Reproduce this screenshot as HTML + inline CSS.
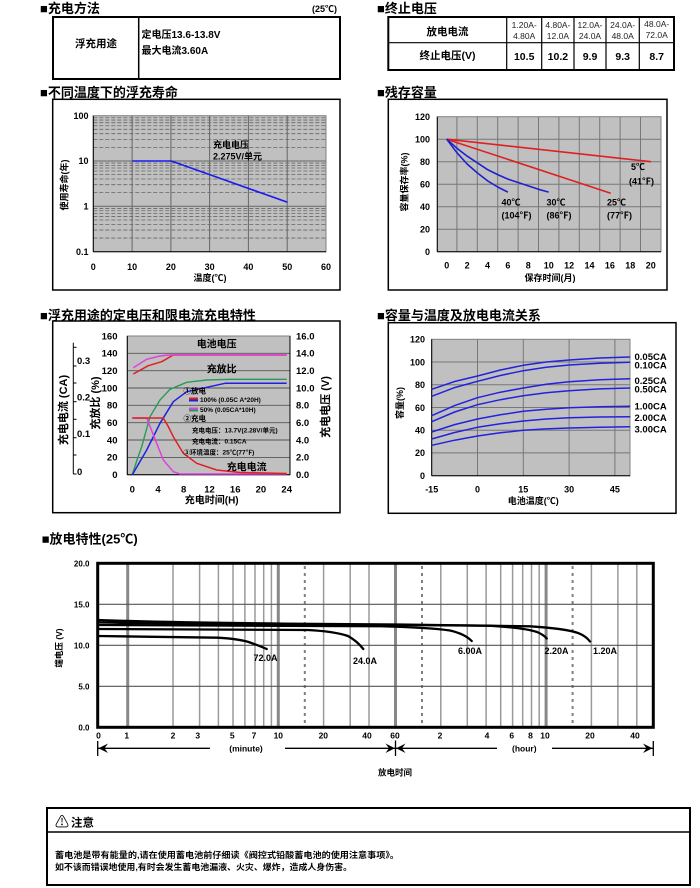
<!DOCTYPE html>
<html><head><meta charset="utf-8"><style>
html,body{margin:0;padding:0;background:#fff;}
svg{display:block;font-family:"Liberation Sans","Noto Sans CJK SC",sans-serif;font-weight:bold;}
</style></head><body>
<svg width="700" height="888" viewBox="0 0 700 888" xmlns="http://www.w3.org/2000/svg">
<rect width="700" height="888" fill="#fff"/>

<!-- ===== Table 1 ===== -->
<text x="40" y="13" font-size="13">■充电方法</text>
<text x="337" y="12" font-size="9" text-anchor="end">(25℃)</text>
<rect x="53" y="17" width="287" height="62" fill="none" stroke="#000" stroke-width="2"/>
<line x1="138.7" y1="17" x2="138.7" y2="79" stroke="#000" stroke-width="1.5"/>
<text x="96" y="47" font-size="10.5" text-anchor="middle">浮充用途</text>
<text x="141.5" y="38" font-size="10">定电压13.6-13.8V</text>
<text x="141.5" y="54" font-size="10">最大电流3.60A</text>

<!-- ===== Table 2 ===== -->
<text x="377" y="13" font-size="13">■终止电压</text>
<rect x="388.3" y="17" width="285.7" height="53" fill="none" stroke="#000" stroke-width="2"/>
<line x1="388.3" y1="42.7" x2="674" y2="42.7" stroke="#000" stroke-width="1.2"/>
<g stroke="#000" stroke-width="1.2">
<line x1="506.7" y1="17" x2="506.7" y2="70"/><line x1="541.7" y1="17" x2="541.7" y2="70"/>
<line x1="574" y1="17" x2="574" y2="70"/><line x1="606" y1="17" x2="606" y2="70"/>
<line x1="639.3" y1="17" x2="639.3" y2="70"/></g>
<text x="447.5" y="35" font-size="10.5" text-anchor="middle">放电电流</text>
<g font-size="8.5" font-weight="normal" text-anchor="middle" fill="#222">
<text x="524.2" y="28">1.20A-</text><text x="524.2" y="39">4.80A</text>
<text x="557.9" y="28">4.80A-</text><text x="557.9" y="39">12.0A</text>
<text x="590" y="28">12.0A-</text><text x="590" y="39">24.0A</text>
<text x="622.7" y="28">24.0A-</text><text x="622.7" y="39">48.0A</text>
<text x="656.7" y="27">48.0A-</text><text x="656.7" y="38">72.0A</text>
</g>
<text x="447.5" y="59" font-size="10.5" text-anchor="middle">终止电压(V)</text>
<g font-size="10.5" text-anchor="middle">
<text x="524.2" y="60">10.5</text><text x="557.9" y="60">10.2</text><text x="590" y="60">9.9</text>
<text x="622.7" y="60">9.3</text><text x="656.7" y="60">8.7</text></g>

<!-- ===== Float life chart ===== -->
<text x="40" y="97" font-size="13">■不同温度下的浮充寿命</text>
<rect x="52.7" y="99.3" width="287.3" height="190.7" fill="#fff" stroke="#000" stroke-width="1.5"/>
<rect x="93.3" y="115.7" width="232.7" height="136" fill="#c0c0c0" stroke="#808080" stroke-width="1"/>
<g stroke="#666" stroke-width="0.8" stroke-dasharray="4,2">
<line x1="93.3" x2="326" y1="238.05" y2="238.05"/><line x1="93.3" x2="326" y1="230.07" y2="230.07"/>
<line x1="93.3" x2="326" y1="224.41" y2="224.41"/><line x1="93.3" x2="326" y1="220.02" y2="220.02"/>
<line x1="93.3" x2="326" y1="216.43" y2="216.43"/><line x1="93.3" x2="326" y1="213.39" y2="213.39"/>
<line x1="93.3" x2="326" y1="210.76" y2="210.76"/><line x1="93.3" x2="326" y1="208.44" y2="208.44"/>
<line x1="93.3" x2="326" y1="192.65" y2="192.65"/><line x1="93.3" x2="326" y1="184.67" y2="184.67"/>
<line x1="93.3" x2="326" y1="179.01" y2="179.01"/><line x1="93.3" x2="326" y1="174.62" y2="174.62"/>
<line x1="93.3" x2="326" y1="171.03" y2="171.03"/><line x1="93.3" x2="326" y1="167.99" y2="167.99"/>
<line x1="93.3" x2="326" y1="165.36" y2="165.36"/><line x1="93.3" x2="326" y1="163.04" y2="163.04"/>
<line x1="93.3" x2="326" y1="147.35" y2="147.35"/><line x1="93.3" x2="326" y1="139.37" y2="139.37"/>
<line x1="93.3" x2="326" y1="133.71" y2="133.71"/><line x1="93.3" x2="326" y1="129.32" y2="129.32"/>
<line x1="93.3" x2="326" y1="125.73" y2="125.73"/><line x1="93.3" x2="326" y1="122.69" y2="122.69"/>
<line x1="93.3" x2="326" y1="120.06" y2="120.06"/><line x1="93.3" x2="326" y1="117.74" y2="117.74"/>
</g>
<g stroke="#666" stroke-width="1">
<line x1="93.3" x2="326" y1="161" y2="161"/><line x1="93.3" x2="326" y1="206.3" y2="206.3"/>
<line x1="132.1" x2="132.1" y1="115.7" y2="251.7"/><line x1="170.9" x2="170.9" y1="115.7" y2="251.7"/>
<line x1="209.6" x2="209.6" y1="115.7" y2="251.7"/><line x1="248.4" x2="248.4" y1="115.7" y2="251.7"/>
<line x1="287.2" x2="287.2" y1="115.7" y2="251.7"/>
</g>
<line x1="93.3" y1="115.7" x2="93.3" y2="251.7" stroke="#000" stroke-width="1"/>
<line x1="93.3" y1="251.7" x2="326" y2="251.7" stroke="#000" stroke-width="1"/>
<polyline points="132.4,161 171.4,161 287.5,202.3" fill="none" stroke="#1a1aee" stroke-width="1.6"/>
<text x="213" y="148" font-size="9">充电电压</text>
<text x="213" y="159.5" font-size="9">2.275V/单元</text>
<g font-size="9" text-anchor="end">
<text x="88.5" y="119">100</text><text x="88.5" y="164">10</text><text x="88.5" y="209.5">1</text><text x="88.5" y="255">0.1</text></g>
<g font-size="9" text-anchor="middle">
<text x="93.3" y="270">0</text><text x="132.1" y="270">10</text><text x="170.9" y="270">20</text><text x="209.6" y="270">30</text>
<text x="248.4" y="270">40</text><text x="287.2" y="270">50</text><text x="326" y="270">60</text></g>
<text x="210" y="281" font-size="9" text-anchor="middle">温度(℃)</text>
<text transform="translate(67.5,185) rotate(-90)" font-size="9" text-anchor="middle">使用寿命(年)</text>

<!-- ===== Residual capacity chart ===== -->
<text x="377" y="97" font-size="13">■残存容量</text>
<rect x="388.3" y="99.3" width="278.7" height="190.7" fill="#fff" stroke="#000" stroke-width="1.5"/>
<rect x="437.3" y="116.7" width="223.7" height="135" fill="#c0c0c0" stroke="#808080" stroke-width="1"/>
<g stroke="#777" stroke-width="1">
<line x1="437.3" x2="661" y1="139.2" y2="139.2"/><line x1="437.3" x2="661" y1="161.7" y2="161.7"/>
<line x1="437.3" x2="661" y1="184.2" y2="184.2"/><line x1="437.3" x2="661" y1="206.7" y2="206.7"/>
<line x1="437.3" x2="661" y1="229.2" y2="229.2"/>
<line x1="456.9" x2="456.9" y1="116.7" y2="251.7"/><line x1="477.3" x2="477.3" y1="116.7" y2="251.7"/>
<line x1="497.7" x2="497.7" y1="116.7" y2="251.7"/><line x1="518.1" x2="518.1" y1="116.7" y2="251.7"/>
<line x1="538.5" x2="538.5" y1="116.7" y2="251.7"/><line x1="558.9" x2="558.9" y1="116.7" y2="251.7"/>
<line x1="579.3" x2="579.3" y1="116.7" y2="251.7"/><line x1="599.7" x2="599.7" y1="116.7" y2="251.7"/>
<line x1="620.1" x2="620.1" y1="116.7" y2="251.7"/><line x1="640.5" x2="640.5" y1="116.7" y2="251.7"/>
</g>
<line x1="437.3" y1="116.7" x2="437.3" y2="251.7" stroke="#000" stroke-width="1"/>
<line x1="437.3" y1="251.7" x2="661" y2="251.7" stroke="#000" stroke-width="1"/>
<line x1="446.7" y1="139.2" x2="651" y2="161.7" stroke="#e02020" stroke-width="1.6"/>
<line x1="446.7" y1="139.2" x2="610.7" y2="193.2" stroke="#e02020" stroke-width="1.6"/>
<polyline points="446.7,139.2 456.9,148.2 467.1,156.1 477.3,162.8 487.5,169.6 497.7,174.6 507.9,179.1 518.1,182.5 528.3,185.9 538.5,189.3 548.7,192.1" fill="none" stroke="#2020d0" stroke-width="1.6" stroke-linejoin="round"/>
<polyline points="446.7,139.2 456.9,152.7 467.1,164 477.3,172.9 487.5,180.8 497.7,187 507.9,192.1" fill="none" stroke="#2020d0" stroke-width="1.6" stroke-linejoin="round"/>
<g font-size="9">
<text x="631" y="170">5℃</text><text x="629" y="184.5">(41℉)</text>
<text x="501.5" y="205.5">40℃</text><text x="501.5" y="218.5">(104℉)</text>
<text x="546.5" y="205.5">30℃</text><text x="546.5" y="218.5">(86℉)</text>
<text x="607" y="205.5">25℃</text><text x="607" y="218.5">(77℉)</text></g>
<g font-size="9" text-anchor="end">
<text x="430" y="120">120</text><text x="430" y="142.5">100</text><text x="430" y="165">80</text><text x="430" y="187.5">60</text>
<text x="430" y="210">40</text><text x="430" y="232.5">20</text><text x="430" y="255">0</text></g>
<g font-size="9" text-anchor="middle">
<text x="446.7" y="268.5">0</text><text x="467.1" y="268.5">2</text><text x="487.5" y="268.5">4</text><text x="507.9" y="268.5">6</text>
<text x="528.3" y="268.5">8</text><text x="548.7" y="268.5">10</text><text x="569.1" y="268.5">12</text><text x="589.5" y="268.5">14</text>
<text x="609.9" y="268.5">16</text><text x="630.3" y="268.5">18</text><text x="650.7" y="268.5">20</text></g>
<text x="550" y="281" font-size="9" text-anchor="middle">保存时间(月)</text>
<text transform="translate(407.5,182) rotate(-90)" font-size="9" text-anchor="middle">容量保存率(%)</text>

<!-- ===== Charge characteristics chart ===== -->
<text x="40" y="320" font-size="13">■浮充用途的定电压和限电流充电特性</text>
<rect x="52.7" y="321" width="287.3" height="191.7" fill="#fff" stroke="#000" stroke-width="1.5"/>
<rect x="127.3" y="336" width="162.7" height="138.7" fill="#c0c0c0" stroke="#808080" stroke-width="1"/>
<g stroke="#555" stroke-width="0.9">
<line x1="127.3" x2="290" y1="457.4" y2="457.4"/><line x1="127.3" x2="290" y1="440" y2="440"/>
<line x1="127.3" x2="290" y1="422.7" y2="422.7"/><line x1="127.3" x2="290" y1="405.3" y2="405.3"/>
<line x1="127.3" x2="290" y1="388" y2="388"/><line x1="127.3" x2="290" y1="370.7" y2="370.7"/>
<line x1="127.3" x2="290" y1="353.3" y2="353.3"/></g>
<line x1="127.3" y1="336" x2="127.3" y2="474.7" stroke="#000" stroke-width="1"/>
<line x1="127.3" y1="474.7" x2="290" y2="474.7" stroke="#000" stroke-width="1"/>
<line x1="290" y1="336" x2="290" y2="474.7" stroke="#000" stroke-width="1"/>
<!-- CA axis -->
<line x1="73.3" y1="342.7" x2="73.3" y2="474" stroke="#000" stroke-width="1"/>
<g stroke="#000" stroke-width="1">
<line x1="73.3" x2="76.5" y1="347.3" y2="347.3"/><line x1="73.3" x2="76.5" y1="366" y2="366"/>
<line x1="73.3" x2="76.5" y1="383" y2="383"/><line x1="73.3" x2="76.5" y1="401.7" y2="401.7"/>
<line x1="73.3" x2="76.5" y1="419.3" y2="419.3"/><line x1="73.3" x2="76.5" y1="437.7" y2="437.7"/>
<line x1="73.3" x2="76.5" y1="455" y2="455"/><line x1="73.3" x2="76.5" y1="474" y2="474"/></g>
<g font-size="9.5">
<text x="77" y="364">0.3</text><text x="77" y="400.5">0.2</text><text x="77" y="437">0.1</text><text x="77" y="475">0</text></g>
<!-- curves -->
<polyline points="133.3,374 148.3,365.7 161.7,361.7 173.3,355 286.7,355" fill="none" stroke="#e02020" stroke-width="1.5" stroke-linejoin="round"/>
<polyline points="133.3,367.7 146.7,359.3 160,356 168.3,355 286.7,355" fill="none" stroke="#e040e0" stroke-width="1.5" stroke-linejoin="round"/>
<polyline points="132.3,474.7 137,460 141.7,446.7 150,416.7 160,400 170,389.3 186.7,382.3 206.7,380 230,379.3 286.7,379.3" fill="none" stroke="#2a9a5a" stroke-width="1.4" stroke-linejoin="round"/>
<polyline points="132.3,474.7 146.7,450 160,423.3 173.3,401.7 186.7,391.7 206.7,387.3 225,383.3 286.7,383.3" fill="none" stroke="#2020e0" stroke-width="1.5" stroke-linejoin="round"/>
<polyline points="132.3,418 146.7,418 156.7,443.3 163.3,460 173.3,471.7 180,474 286.7,474" fill="none" stroke="#e040e0" stroke-width="1.5" stroke-linejoin="round"/>
<polyline points="132.3,418 163.3,418 168,426 173.3,436.7 183.3,453.3 196.7,463.3 216.7,470 240,472.5 286.7,473.5" fill="none" stroke="#e02020" stroke-width="1.5" stroke-linejoin="round"/>
<text x="216.7" y="347.5" font-size="10" text-anchor="middle">电池电压</text>
<text x="221.7" y="372.5" font-size="10" text-anchor="middle">充放比</text>
<text x="246.7" y="470.5" font-size="10" text-anchor="middle">充电电流</text>
<g font-size="6.5">
<text x="183.5" y="393.5" font-size="7.5">①放电</text>
<rect x="189" y="397.5" width="9" height="2" fill="#e02020"/><rect x="189" y="399.5" width="9" height="2" fill="#2020e0"/>
<text x="200" y="402">100% (0.05C A*20H)</text>
<rect x="189" y="407.5" width="9" height="2" fill="#e040e0"/><rect x="189" y="409.5" width="9" height="2" fill="#2a9a5a"/>
<text x="200" y="412">50% (0.05CA*10H)</text>
<text x="183.5" y="421" font-size="7.5">②充电</text>
<text x="192" y="432.5">充电电压：13.7V(2.28V/单元)</text>
<text x="192" y="443.5">充电电流：0.15CA</text>
<text x="183.5" y="454.5">③环境温度：25℃(77℉)</text>
</g>
<g font-size="9.5" text-anchor="end">
<text x="117.5" y="478">0</text><text x="117.5" y="460.7">20</text><text x="117.5" y="443.3">40</text><text x="117.5" y="426">60</text>
<text x="117.5" y="408.6">80</text><text x="117.5" y="391.3">100</text><text x="117.5" y="374">120</text><text x="117.5" y="356.6">140</text><text x="117.5" y="339.3">160</text></g>
<g font-size="9.5">
<text x="296" y="478">0.0</text><text x="296" y="460.7">2.0</text><text x="296" y="443.3">4.0</text><text x="296" y="426">6.0</text>
<text x="296" y="408.6">8.0</text><text x="296" y="391.3">10.0</text><text x="296" y="374">12.0</text><text x="296" y="356.6">14.0</text><text x="296" y="339.3">16.0</text></g>
<g font-size="9.5" text-anchor="middle">
<text x="132.3" y="492.5">0</text><text x="158" y="492.5">4</text><text x="183.7" y="492.5">8</text><text x="209.5" y="492.5">12</text>
<text x="235.2" y="492.5">16</text><text x="260.9" y="492.5">20</text><text x="286.7" y="492.5">24</text></g>
<text x="211.7" y="503.5" font-size="10" text-anchor="middle">充电时间(H)</text>
<text transform="translate(67,410) rotate(-90)" font-size="11" text-anchor="middle">充电电流 (CA)</text>
<text transform="translate(99,403) rotate(-90)" font-size="11" text-anchor="middle">充放比 (%)</text>
<text transform="translate(329,407) rotate(-90)" font-size="11" text-anchor="middle">充电电压 (V)</text>

<!-- ===== Capacity vs temperature ===== -->
<text x="377" y="320" font-size="13">■容量与温度及放电电流关系</text>
<rect x="388.3" y="322.7" width="287.7" height="190.6" fill="#fff" stroke="#000" stroke-width="1.5"/>
<rect x="431.7" y="339.3" width="198.3" height="136.4" fill="#c0c0c0" stroke="#808080" stroke-width="1"/>
<g stroke="#777" stroke-width="1">
<line x1="431.7" x2="630" y1="452.9" y2="452.9"/><line x1="431.7" x2="630" y1="430.2" y2="430.2"/>
<line x1="431.7" x2="630" y1="407.5" y2="407.5"/><line x1="431.7" x2="630" y1="384.7" y2="384.7"/>
<line x1="431.7" x2="630" y1="362" y2="362"/>
<line x1="477.5" x2="477.5" y1="339.3" y2="475.7"/><line x1="523.3" x2="523.3" y1="339.3" y2="475.7"/>
<line x1="569.1" x2="569.1" y1="339.3" y2="475.7"/><line x1="614.9" x2="614.9" y1="339.3" y2="475.7"/></g>
<line x1="431.7" y1="339.3" x2="431.7" y2="475.7" stroke="#000" stroke-width="1"/>
<line x1="431.7" y1="475.7" x2="630" y2="475.7" stroke="#000" stroke-width="1"/>
<g fill="none" stroke="#2222dd" stroke-width="1.5" stroke-linejoin="round">
<polyline points="431.7,389.3 454.6,381.5 477.5,376 500.4,370 523.3,365.3 546.2,362 569.1,360 599.6,358 630.2,357"/>
<polyline points="431.7,396.3 454.6,387.6 477.5,381.3 500.4,375.5 523.3,370.7 546.2,367.3 569.1,365 599.6,363.2 630.2,362.3"/>
<polyline points="431.7,415.7 454.6,405.6 477.5,397.7 500.4,392.2 523.3,388 546.2,384.3 569.1,381.7 599.6,379.8 630.2,378.7"/>
<polyline points="431.7,421.7 454.6,412 477.5,404.7 500.4,399.7 523.3,395.7 546.2,392.7 569.1,390.7 599.6,388.9 630.2,388"/>
<polyline points="431.7,432 454.6,424.6 477.5,419 500.4,414.8 523.3,411.3 546.2,409.2 569.1,407.7 599.6,406.7 630.2,406.3"/>
<polyline points="431.7,439 454.6,432.5 477.5,427.3 500.4,423.8 523.3,421 546.2,419 569.1,417.7 599.6,417 630.2,416.7"/>
<polyline points="431.7,445.3 454.6,440.2 477.5,436 500.4,432.8 523.3,430.3 546.2,428.9 569.1,428 599.6,427.2 630.2,426.7"/>
</g>
<g font-size="9.5">
<text x="634.5" y="360">0.05CA</text><text x="634.5" y="368.5">0.10CA</text><text x="634.5" y="384">0.25CA</text>
<text x="634.5" y="392.5">0.50CA</text><text x="634.5" y="409.5">1.00CA</text><text x="634.5" y="421">2.00CA</text>
<text x="634.5" y="432.5">3.00CA</text></g>
<g font-size="9" text-anchor="end">
<text x="425" y="479">0</text><text x="425" y="456.2">20</text><text x="425" y="433.5">40</text><text x="425" y="410.8">60</text>
<text x="425" y="388">80</text><text x="425" y="365.3">100</text><text x="425" y="342.6">120</text></g>
<g font-size="9" text-anchor="middle">
<text x="431.7" y="492.5">-15</text><text x="477.5" y="492.5">0</text><text x="523.3" y="492.5">15</text>
<text x="569.1" y="492.5">30</text><text x="614.9" y="492.5">45</text></g>
<text x="533.3" y="504" font-size="9" text-anchor="middle">电池温度(℃)</text>
<text transform="translate(403,403) rotate(-90)" font-size="9" text-anchor="middle">容量(%)</text>

<!-- ===== Discharge characteristics ===== -->
<text x="41.7" y="543.5" font-size="13">■放电特性(25℃)</text>
<g stroke="#9a9a9a" stroke-width="1.5">
<line x1="173" x2="173" y1="563.3" y2="727.3"/><line x1="199.6" x2="199.6" y1="563.3" y2="727.3"/>
<line x1="218.4" x2="218.4" y1="563.3" y2="727.3"/><line x1="233" x2="233" y1="563.3" y2="727.3"/>
<line x1="244.9" x2="244.9" y1="563.3" y2="727.3"/><line x1="255" x2="255" y1="563.3" y2="727.3"/>
<line x1="263.7" x2="263.7" y1="563.3" y2="727.3"/><line x1="271.4" x2="271.4" y1="563.3" y2="727.3"/>
<line x1="323.6" x2="323.6" y1="563.3" y2="727.3"/><line x1="350.2" x2="350.2" y1="563.3" y2="727.3"/>
<line x1="369" x2="369" y1="563.3" y2="727.3"/><line x1="440.8" x2="440.8" y1="563.3" y2="727.3"/>
<line x1="467.3" x2="467.3" y1="563.3" y2="727.3"/><line x1="486.1" x2="486.1" y1="563.3" y2="727.3"/>
<line x1="500.7" x2="500.7" y1="563.3" y2="727.3"/><line x1="512.6" x2="512.6" y1="563.3" y2="727.3"/>
<line x1="522.7" x2="522.7" y1="563.3" y2="727.3"/><line x1="531.5" x2="531.5" y1="563.3" y2="727.3"/>
<line x1="539.2" x2="539.2" y1="563.3" y2="727.3"/><line x1="591.4" x2="591.4" y1="563.3" y2="727.3"/>
<line x1="617.9" x2="617.9" y1="563.3" y2="727.3"/><line x1="636.8" x2="636.8" y1="563.3" y2="727.3"/></g>
<g stroke="#888" stroke-width="3">
<line x1="127.7" x2="127.7" y1="563.3" y2="727.3"/><line x1="278.3" x2="278.3" y1="563.3" y2="727.3"/>
<line x1="395.5" x2="395.5" y1="563.3" y2="727.3"/><line x1="546.1" x2="546.1" y1="563.3" y2="727.3"/></g>
<g stroke="#808080" stroke-width="2" stroke-dasharray="3,4">
<line x1="304.8" x2="304.8" y1="566" y2="727.3"/><line x1="422" x2="422" y1="566" y2="727.3"/>
<line x1="572.6" x2="572.6" y1="566" y2="727.3"/></g>
<g stroke="#555" stroke-width="1.2">
<line x1="97.7" x2="653.3" y1="604.3" y2="604.3"/><line x1="97.7" x2="653.3" y1="645.3" y2="645.3"/>
<line x1="97.7" x2="653.3" y1="686.3" y2="686.3"/></g>
<rect x="97.7" y="563.3" width="555.6" height="164" fill="none" stroke="#000" stroke-width="3"/>
<g fill="none" stroke="#000" stroke-width="2.3" stroke-linecap="round">
<path d="M97.7,636 L218,637.7 Q240,639 250,642.5 Q260,646 266.7,649"/>
<path d="M97.7,629 L308,630 Q335,631.5 348,636 Q357,641 363.3,649"/>
<path d="M97.7,625 L380,626.2 Q430,627.5 450,630.5 Q465,634 471.7,641"/>
<path d="M97.7,622.3 Q200,624.5 400,625 L490,625.7 Q525,628 537,632 Q544,635 546.7,638.5"/>
<path d="M97.7,620 Q200,623.5 400,624.5 L530,626.3 Q565,628.5 578,633 Q586,636 590,641.5"/>
</g>
<g font-size="9" text-anchor="middle">
<text x="265.5" y="661">72.0A</text><text x="365" y="664">24.0A</text><text x="470" y="654">6.00A</text>
<text x="556.5" y="654">2.20A</text><text x="605" y="654">1.20A</text></g>
<g font-size="8" text-anchor="end">
<text x="89.5" y="566.5">20.0</text><text x="89.5" y="607.5">15.0</text><text x="89.5" y="648.5">10.0</text>
<text x="89.5" y="689.5">5.0</text><text x="89.5" y="730.5">0.0</text></g>
<text transform="translate(62,648) rotate(-90)" font-size="8.5" text-anchor="middle">端电压 (V)</text>
<g font-size="8.5" text-anchor="middle">
<text x="98.5" y="738.5">0</text><text x="126.7" y="738.5">1</text><text x="173" y="738.5">2</text><text x="197.7" y="738.5">3</text>
<text x="232.3" y="738.5">5</text><text x="254" y="738.5">7</text><text x="278.3" y="738.5">10</text><text x="323.3" y="738.5">20</text>
<text x="367" y="738.5">40</text><text x="395" y="738.5">60</text><text x="440" y="738.5">2</text><text x="487" y="738.5">4</text>
<text x="511.7" y="738.5">6</text><text x="530.5" y="738.5">8</text><text x="545" y="738.5">10</text><text x="590" y="738.5">20</text>
<text x="635" y="738.5">40</text></g>
<!-- arrows -->
<g stroke="#000" stroke-width="1.3">
<line x1="97.7" y1="741" x2="97.7" y2="756"/>
<line x1="98" y1="748.3" x2="210" y2="748.3"/>
<line x1="285" y1="748.3" x2="395.5" y2="748.3"/>
<line x1="395.5" y1="740.5" x2="395.5" y2="756"/>
<line x1="395.5" y1="748.3" x2="497" y2="748.3"/>
<line x1="552" y1="748.3" x2="653" y2="748.3"/>
<line x1="653.3" y1="741" x2="653.3" y2="756"/></g>
<polygon points="98.5,748.3 108,743.5 104.5,748.3 108,753" fill="#000"/>
<polygon points="394.8,748.3 385.5,743.5 389,748.3 385.5,753" fill="#000"/>
<polygon points="396.2,748.3 405.5,743.5 402,748.3 405.5,753" fill="#000"/>
<polygon points="652.5,748.3 643,743.5 646.5,748.3 643,753" fill="#000"/>
<text x="246" y="751.5" font-size="8.5" text-anchor="middle">(minute)</text>
<text x="524.3" y="751.5" font-size="8.5" text-anchor="middle">(hour)</text>
<text x="395" y="775.5" font-size="8.5" text-anchor="middle">放电时间</text>

<!-- ===== Note box ===== -->
<rect x="47" y="808" width="643" height="77" fill="none" stroke="#000" stroke-width="2"/>
<line x1="47" y1="832" x2="690" y2="832" stroke="#000" stroke-width="1.5"/>
<text x="55" y="827" font-size="14" font-weight="normal">⚠</text>
<text x="71" y="826.5" font-size="11.5">注意</text>
<text x="55" y="858" font-size="8.3" textLength="344" lengthAdjust="spacingAndGlyphs">蓄电池是带有能量的,请在使用蓄电池前仔细读《阀控式铅酸蓄电池的使用注意事项》。</text>
<text x="55" y="870" font-size="8.3" textLength="297" lengthAdjust="spacingAndGlyphs">如不该而错误地使用,有时会发生蓄电池漏液、火灾、爆炸，造成人身伤害。</text>
</svg>
</body></html>
